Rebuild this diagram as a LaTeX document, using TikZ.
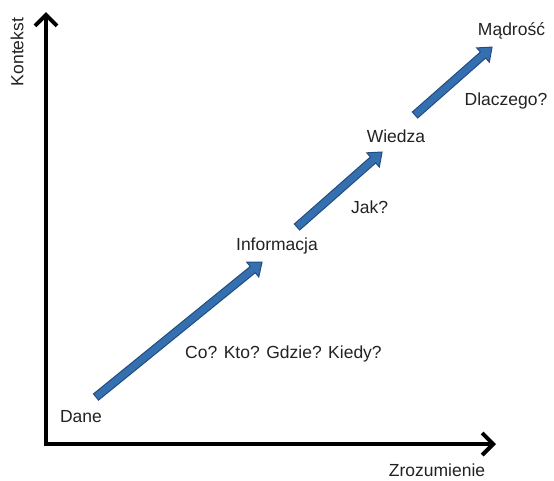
\documentclass[tikz,border=0pt]{standalone}
\usepackage{fontspec}
\setmainfont{Liberation Sans}
\usetikzlibrary{arrows.meta}
\definecolor{arrfill}{RGB}{52,112,176}
\definecolor{arrline}{RGB}{36,76,128}
\definecolor{txt}{RGB}{34,34,34}
\tikzset{
  lbl/.style={anchor=base, inner sep=0pt, text=txt, font=\fontsize{17.5}{21}\selectfont},
  axis/.style={line width=4pt, -{Straight Barb[length=11pt,width=22pt]}},
  blockarrow/.style={fill=arrfill, draw=arrline, line width=1pt, line join=miter}
}
\newcommand{\blockarr}[3]{% tail coordinate, angle, length
  \begin{scope}[shift={(#1)}, rotate=#2]
    \path[blockarrow] (0,-4) -- (#3-12,-4) -- (#3-12,-9.5) -- (#3,0) -- (#3-12,9.5) -- (#3-12,4) -- (0,4) -- cycle;
  \end{scope}}
\begin{document}
\begin{tikzpicture}[x=1pt,y=-1pt]
\useasboundingbox (0,0) rectangle (554,480);
\coordinate (origin) at (46,444);
\coordinate (ytop) at (46,12);
\coordinate (xend) at (496,444);
\draw[axis] ([yshift=-2pt]origin) -- (ytop);
\draw[axis] ([xshift=-2pt]origin) -- (xend);
\node[lbl, rotate=90, anchor=center] (kontekst) at (17,52) {Kontekst};
\node[lbl] (zroz) at (437,476.5) {Zrozumienie};

\coordinate (t1) at (96,397);
\coordinate (t2) at (297,227);
\coordinate (t3) at (415,115);
\blockarr{t1}{39.1}{214}
\blockarr{t2}{41.4}{113.4}
\blockarr{t3}{41.4}{102.7}

\node[lbl] (dane) at (81,422) {Dane};
\node[lbl] (pyt1) at (283.5,358) {Co? Kto? Gdzie? Kiedy?};
\node[lbl] (info) at (277,250) {Informacja};
\node[lbl] (jak) at (369.5,213) {Jak?};
\node[lbl] (wiedza) at (396,142) {Wiedza};
\node[lbl] (dlaczego) at (506,105) {Dlaczego?};
\node[lbl] (madrosc) at (511.5,35) {Mądrość};
\end{tikzpicture}
\end{document}
